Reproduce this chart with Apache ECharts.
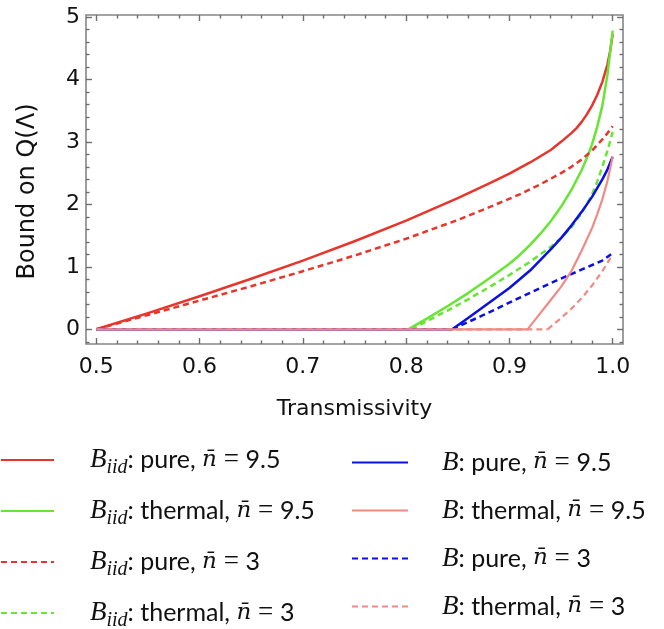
<!DOCTYPE html>
<html><head><meta charset="utf-8">
<script src="https://cdn.jsdelivr.net/npm/echarts@6/dist/echarts.min.js"></script>
<style>html,body{margin:0;padding:0;background:#fff}#c{width:664px;height:629px}</style>
</head><body><div id="c"></div>
<script>
// ---- axis ticks ----
const xMajorTicks = [0.5, 0.6, 0.7, 0.8, 0.9, 1.0];
const xMinorTicks = [0.52, 0.54, 0.56, 0.58, 0.62, 0.64, 0.66, 0.68, 0.72, 0.74, 0.76, 0.78,
                     0.82, 0.84, 0.86, 0.88, 0.92, 0.94, 0.96, 0.98];
const yMajorTicks = [0, 1, 2, 3, 4, 5];
const yMinorTicks = [-0.2, 0.2, 0.4, 0.6, 0.8, 1.2, 1.4, 1.6, 1.8, 2.2, 2.4, 2.6, 2.8,
                     3.2, 3.4, 3.6, 3.8, 4.2, 4.4, 4.6, 4.8];
const X_START = 0.5;

// ---- series data (transmissivity, bound); thermal/B curves start at their threshold ----
const redSolidEta = [0.5, 0.55, 0.6, 0.65, 0.7, 0.75, 0.8, 0.85, 0.88, 0.9, 0.92, 0.93, 0.94, 0.95, 0.96,
                     0.965, 0.97, 0.975, 0.98, 0.985, 0.99, 0.995, 0.9975, 1.0];
const redSolidVal = [0, 0.26, 0.53, 0.81, 1.10, 1.41, 1.74, 2.10, 2.33, 2.49, 2.67, 2.77, 2.87, 3.00, 3.14,
                     3.22, 3.32, 3.44, 3.58, 3.75, 3.96, 4.24, 4.45, 4.72];

const greenSolidEta = [0.802, 0.82, 0.84, 0.86, 0.88, 0.9, 0.91, 0.92, 0.93, 0.94, 0.95, 0.96, 0.97,
                       0.975, 0.98, 0.985, 0.99, 0.995, 1.0];
const greenSolidVal = [0, 0.17, 0.37, 0.58, 0.81, 1.05, 1.19, 1.35, 1.53, 1.73, 1.96, 2.23, 2.55,
                       2.74, 2.96, 3.24, 3.58, 4.08, 4.78];

const redDashEta = [0.5, 0.55, 0.6, 0.65, 0.7, 0.75, 0.8, 0.85, 0.88, 0.91, 0.93, 0.95, 0.96, 0.97, 0.98, 0.99, 0.995, 1.0];
const redDashVal = [0, 0.23, 0.46, 0.69, 0.93, 1.18, 1.45, 1.75, 1.95, 2.16, 2.32, 2.50, 2.60, 2.72, 2.86, 3.04, 3.14, 3.25];

const greenDashEta = [0.805, 0.82, 0.84, 0.86, 0.88, 0.9, 0.92, 0.94, 0.95, 0.96, 0.97, 0.98, 0.985, 0.99, 0.995, 1.0];
const greenDashVal = [0, 0.13, 0.30, 0.48, 0.67, 0.87, 1.08, 1.32, 1.46, 1.63, 1.86, 2.16, 2.36, 2.60, 2.86, 3.16];

const blueSolidEta = [0.8446, 0.86, 0.88, 0.9, 0.92, 0.94, 0.95, 0.96, 0.97, 0.98, 0.985, 0.99, 0.995, 1.0];
const blueSolidVal = [0, 0.18, 0.42, 0.66, 0.94, 1.28, 1.46, 1.66, 1.88, 2.12, 2.26, 2.40, 2.56, 2.76];

const pinkSolidEta = [0.9175, 0.93, 0.94, 0.95, 0.96, 0.97, 0.98, 0.985, 0.99, 0.995, 1.0];
const pinkSolidVal = [0, 0.26, 0.47, 0.68, 0.93, 1.26, 1.62, 1.84, 2.08, 2.38, 2.76];

const blueDashEta = [0.8446, 0.875, 0.908, 0.94, 0.972, 0.99, 1.0];
const blueDashVal = [0, 0.23, 0.49, 0.74, 0.97, 1.10, 1.22];

const pinkDashEta = [0.937, 0.95, 0.96, 0.97, 0.98, 0.99, 1.0];
const pinkDashVal = [0, 0.18, 0.33, 0.50, 0.70, 0.93, 1.20];

// ---- legend labels ----
const seriesNames = [
  'B_iid: pure, n = 9.5', 'B_iid: thermal, n = 9.5', 'B_iid: pure, n = 3', 'B_iid: thermal, n = 3',
  'B: pure, n = 9.5', 'B: thermal, n = 9.5', 'B: pure, n = 3', 'B: thermal, n = 3'
];
const legendRich = {
  'B_iid: pure, n = 9.5':    '{b|B}{s|iid}{t|: pure, }{n|n\u0304}{e| = }{v|9.5}',
  'B_iid: thermal, n = 9.5': '{b|B}{s|iid}{t|: thermal, }{n|n\u0304}{e| = }{v|9.5}',
  'B_iid: pure, n = 3':      '{b|B}{s|iid}{t|: pure, }{n|n\u0304}{e| = }{v|3}',
  'B_iid: thermal, n = 3':   '{b|B}{s|iid}{t|: thermal, }{n|n\u0304}{e| = }{v|3}',
  'B: pure, n = 9.5':        '{b2|B}{t|: pure, }{n|n\u0304}{e| = }{v|9.5}',
  'B: thermal, n = 9.5':     '{b2|B}{t|: thermal, }{n|n\u0304}{e| = }{v|9.5}',
  'B: pure, n = 3':          '{b2|B}{t|: pure, }{n|n\u0304}{e| = }{v|3}',
  'B: thermal, n = 3':       '{b2|B}{t|: thermal, }{n|n\u0304}{e| = }{v|3}'
};

const RED = '#e8352b', GREEN = '#66e633', BLUE = '#0a0fe6', PINK = '#f08a85';
const pairs = (xs, ys) => xs.map((x, i) => [x, ys[i]]);

function mkSeries(name, xs, ys, color, dashed, width, z) {
  return {
    name, type: 'line', data: pairs(xs, ys), symbol: 'none', showSymbol: false,
    smooth: false, z: z, animation: false,
    lineStyle: { color, width, type: dashed ? [6, 4] : 'solid', join: 'round' },
    itemStyle: { color }
  };
}
// flat part at zero before a curve's threshold
function mkZero(xs, color, dashed, width, z) {
  return {
    type: 'line', data: [[X_START, 0], [xs[0], 0]], symbol: 'none', showSymbol: false,
    z: z, animation: false, silent: true,
    lineStyle: { color, width, type: dashed ? [6, 4] : 'solid' }
  };
}

const serif = 'Liberation Serif';
const LH = 24;
const rich = {
  b: { fontFamily: serif, fontStyle: 'italic', fontSize: 27, lineHeight: LH, color: '#111', padding: [0, 0, 0, 31] },
  b2: { fontFamily: serif, fontStyle: 'italic', fontSize: 27, lineHeight: LH, color: '#111', padding: [0, 0, 0, 29] },
  s: { fontFamily: serif, fontStyle: 'italic', fontSize: 20, lineHeight: 6, padding: [16, 0, 0, 0], color: '#111' },
  t: { fontFamily: 'Lato', fontSize: 25, lineHeight: LH, color: '#111' },
  n: { fontFamily: 'DejaVu Serif', fontStyle: 'italic', fontSize: 23, lineHeight: LH, color: '#111' },
  e: { fontFamily: serif, fontSize: 27, lineHeight: LH, color: '#111' },
  v: { fontFamily: 'Lato', fontSize: 25, lineHeight: LH, color: '#111' }
};

const SANS = 'DejaVu Sans';
const TICK = { color: '#6e6e6e', width: 1.4 };
function xAx(pos, ticks, len, labels) {
  const a = {
    type: 'value', min: 0.49, max: 1.01, position: pos,
    axisLine: { show: false, onZero: false }, splitLine: { show: false },
    axisTick: { show: true, inside: true, length: len, customValues: ticks, lineStyle: TICK },
    axisLabel: { show: false }
  };
  if (labels) {
    a.axisLabel = { show: true, customValues: ticks, formatter: v => v.toFixed(1), margin: 12,
      fontSize: 22, color: '#111', fontFamily: SANS };
    a.name = 'Transmissivity'; a.nameLocation = 'middle'; a.nameGap = 54;
    a.nameTextStyle = { fontSize: 22, color: '#111', fontFamily: SANS };
  }
  return a;
}
function yAx(pos, ticks, len, labels) {
  const a = {
    type: 'value', min: -0.235, max: 5.03, position: pos,
    axisLine: { show: false, onZero: false }, splitLine: { show: false },
    axisTick: { show: true, inside: true, length: len, customValues: ticks, lineStyle: TICK },
    axisLabel: { show: false }
  };
  if (labels) {
    a.axisLabel = { show: true, customValues: ticks, formatter: v => String(v), margin: 6,
      fontSize: 22, color: '#111', fontFamily: SANS };
    a.name = 'Bound on Q(\u039B)'; a.nameLocation = 'middle'; a.nameGap = 46;
    a.nameTextStyle = { fontSize: 24, color: '#111', fontFamily: SANS, padding: [0, 24, 0, 0] };
  }
  return a;
}

const legendCommon = {
  orient: 'vertical', itemHeight: 14, padding: 0, selectedMode: false, height: 260,
  formatter: n => legendRich[n], textStyle: { rich },
  itemStyle: { opacity: 0 }
};

const chart = echarts.init(document.getElementById('c'), null, { renderer: 'canvas' });
chart.setOption({
  animation: false,
  backgroundColor: '#fff',
  grid: { left: 86, right: 41, top: 15, bottom: 285, show: true, borderColor: '#858585', borderWidth: 1.6, backgroundColor: 'transparent' },
  xAxis: [xAx('bottom', xMajorTicks, 6, true), xAx('bottom', xMinorTicks, 3.5, false),
          xAx('top', xMajorTicks, 6, false), xAx('top', xMinorTicks, 3.5, false)],
  yAxis: [yAx('left', yMajorTicks, 6, true), yAx('left', yMinorTicks, 3.5, false),
          yAx('right', yMajorTicks, 6, false), yAx('right', yMinorTicks, 3.5, false)],
  legend: [
    Object.assign({}, legendCommon, { data: seriesNames.slice(0, 4), left: 0, top: 442, itemWidth: 53, itemGap: 15 }),
    Object.assign({}, legendCommon, { data: seriesNames.slice(4), left: 351, top: 449, itemWidth: 56, itemGap: 21 })
  ],
  series: [
    mkSeries(seriesNames[0], redSolidEta, redSolidVal, RED, false, 2.5, 2),
    mkZero(greenSolidEta, GREEN, false, 2.5, 2),
    mkSeries(seriesNames[1], greenSolidEta, greenSolidVal, GREEN, false, 2.5, 2),
    mkSeries(seriesNames[2], redDashEta, redDashVal, RED, true, 2.5, 2),
    mkZero(greenDashEta, GREEN, true, 2.5, 2),
    mkSeries(seriesNames[3], greenDashEta, greenDashVal, GREEN, true, 2.5, 2),
    mkZero(blueSolidEta, BLUE, false, 2.5, 2),
    mkSeries(seriesNames[4], blueSolidEta, blueSolidVal, BLUE, false, 2.5, 2),
    mkZero(pinkSolidEta, PINK, false, 2.2, 4),
    mkSeries(seriesNames[5], pinkSolidEta, pinkSolidVal, PINK, false, 2.2, 4),
    mkZero(blueDashEta, BLUE, true, 2.5, 2),
    mkSeries(seriesNames[6], blueDashEta, blueDashVal, BLUE, true, 2.5, 3),
    mkZero(pinkDashEta, PINK, true, 2.2, 3),
    mkSeries(seriesNames[7], pinkDashEta, pinkDashVal, PINK, true, 2.2, 3)
  ]
});
</script>
</body></html>
